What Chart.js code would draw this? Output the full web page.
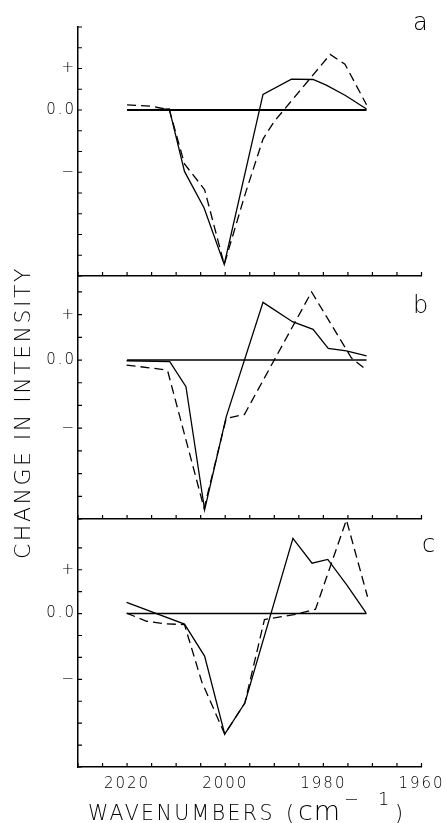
<!DOCTYPE html>
<html><head><meta charset="utf-8">
<script src="https://cdn.jsdelivr.net/npm/chart.js@4"></script>
<style>
html,body{margin:0;padding:0;background:#fff;overflow:hidden;width:445px;height:823px;position:relative;}
canvas{position:absolute;left:0;top:0;}
.t{position:absolute;font-family:'DejaVu Sans';font-weight:200;line-height:1;white-space:nowrap;color:#000;}
</style></head><body>
<canvas id="ca" width="480" height="823"></canvas>
<canvas id="cb" width="480" height="823"></canvas>
<canvas id="cc" width="480" height="823"></canvas>
<div class="t" style="font-size:24px;left:413px;top:9.7px;">a</div>
<div class="t" style="font-size:24px;left:413px;top:292.7px;">b</div>
<div class="t" style="font-size:24px;left:422px;top:531.7px;">c</div>
<div class="t" style="font-size:22px;letter-spacing:2.5px;left:12.4px;top:559px;transform-origin:0 0;transform:rotate(-90deg);">CHANGE IN INTENSITY</div>
<div class="t" style="font-size:20.5px;letter-spacing:2.4px;left:88px;top:802.7px;">WAVENUMBERS</div>
<div class="t" style="font-size:20.5px;left:286px;top:802.7px;">(</div>
<div class="t" style="font-size:27px;letter-spacing:1px;left:298px;top:797.2px;">cm</div>
<div class="t" style="font-size:17.8px;left:344px;top:789.9px;">−</div>
<div class="t" style="font-size:17.8px;left:378px;top:789.9px;">1</div>
<div class="t" style="font-size:20.5px;left:395px;top:802.7px;">)</div>
<script>
// ---- data (wavenumber, change in intensity in tick units) ----
const xTickValues = [1960,1965,1970,1975,1980,1985,1990,1995,2000,2005,2010,2015,2020,2025,2030];
const xTickLabels = {2020:'2020', 2000:'2000', 1980:'1980', 1960:'1960'};
const yTickLabels = {'2':'+', '0':'0.0', '-3':'−'};

const zeroW = [2020, 1971.2];
const zeroV = [0, 0];

// panel a
const aSolidW = [2020, 2016, 2011.4, 2008.3, 2004.3, 2000.2, 1992.3, 1986.5, 1982.1, 1979.4, 1975.5, 1971.2];
const aSolidV = [0, 0, 0.05, -2.96, -4.72, -7.44, 0.75, 1.49, 1.47, 1.2, 0.7, 0.05];
const aDashW  = [2020, 2015, 2011.4, 2008.3, 2004.2, 2000.2, 1996, 1992.3, 1990, 1978.6, 1975.6, 1971.2];
const aDashV  = [0.25, 0.18, 0.02, -2.6, -3.84, -7.44, -4.1, -1.4, -0.55, 2.68, 2.21, 0.25];
const aYTicks = [-8,-7,-6,-5,-4,-3,-2,-1,0,1,2,3,4];

// panel b
const bSolidW = [2020.1, 2011.3, 2008.0, 2004.2, 1999.8, 1992.3, 1986.3, 1982.1, 1979.0, 1975.3, 1971.2];
const bSolidV = [-0.03, -0.07, -1.17, -6.6, -2.5, 2.54, 1.69, 1.35, 0.51, 0.4, 0.18];
const bDashW  = [2020.1, 2012.5, 2011.7, 2004.3, 1999.8, 1996.1, 1982.4, 1974.3, 1971.2];
const bDashV  = [-0.22, -0.42, -0.5, -6.53, -2.57, -2.4, 3.0, 0.1, -0.44];
const bYTicks = [-7,-6,-5,-4,-3,-2,-1,0,1,2,3];

// panel c
const cSolidW = [2020.1, 2008.3, 2004.2, 2000.1, 1996.0, 1986.2, 1982.3, 1979.1, 1975.2, 1971.3];
const cSolidV = [0.51, -0.48, -1.94, -5.5, -4.08, 3.43, 2.3, 2.47, 1.3, 0.03];
const cDashW  = [2020.1, 2016, 2012, 2008.3, 2004.8, 2000.1, 1996.0, 1992.0, 1986, 1981.6, 1975.3, 1971.0];
const cDashV  = [0.02, -0.35, -0.47, -0.5, -3.1, -5.5, -4.08, -0.27, -0.05, 0.2, 4.27, 0.77];
const cYTicks = [-7,-6,-5,-4,-3,-2,-1,0,1,2,3];

const yMins = [-8, -7, -7];
const yMaxs = [4, 3.68, 4.27];

const pts = (w, v) => w.map((x, i) => ({x: x, y: v[i]}));

const innerTicks = {
  id: 'innerTicks',
  beforeDraw(chart) { chart.ctx.letterSpacing = '2px'; },
  afterDraw(chart) {
    const ctx = chart.ctx, xs = chart.scales.x, ys = chart.scales.y, a = chart.chartArea;
    ctx.save();
    ctx.strokeStyle = '#000';
    ctx.lineWidth = 1.2;
    ctx.beginPath();
    xs.ticks.forEach(t => { const px = xs.getPixelForValue(t.value); ctx.moveTo(px, a.bottom); ctx.lineTo(px, a.bottom - 4); });
    ys.ticks.forEach(t => { const py = ys.getPixelForValue(t.value); ctx.moveTo(a.left, py); ctx.lineTo(a.left + 4, py); });
    ctx.stroke();
    ctx.restore();
  }
};

const tickFont = { family: 'DejaVu Sans', size: 15, weight: '200' };

function makeChart(id, idx, sW, sV, dW, dV, yT, padTop, padBottom, showX, zeroWidth) {
  return new Chart(document.getElementById(id), {
    type: 'line',
    data: { datasets: [
      { data: pts(zeroW, zeroV), borderColor: '#000', borderWidth: zeroWidth, pointRadius: 0 },
      { data: pts(sW, sV), borderColor: '#000', borderWidth: 1.3, pointRadius: 0 },
      { data: pts(dW, dV), borderColor: '#000', borderWidth: 1.3, borderDash: [9, 5], pointRadius: 0 }
    ]},
    options: {
      responsive: false, animation: false, events: [],
      layout: { padding: { left: 0, right: 58.5, top: padTop, bottom: padBottom } },
      plugins: { legend: { display: false }, tooltip: { enabled: false } },
      scales: {
        x: {
          type: 'linear', min: 1960, max: 2030, reverse: true,
          afterBuildTicks: s => { s.ticks = xTickValues.map(v => ({value: v})); },
          afterFit: s => { s.height = showX ? 56 : 0; },
          ticks: { display: showX, autoSkip: false, maxRotation: 0, padding: 8, color: '#000',
                   font: tickFont, callback: v => xTickLabels[v] || '' },
          grid: { display: false, drawTicks: false },
          border: { display: true, color: '#000', width: 1.5 }
        },
        y: {
          min: yMins[idx], max: yMaxs[idx],
          afterBuildTicks: s => { s.ticks = yT.map(v => ({value: v})); },
          afterFit: s => { s.width = 78; },
          ticks: { autoSkip: false, padding: 2, color: '#000', font: tickFont,
                   callback: v => yTickLabels[String(v)] || '' },
          grid: { display: false, drawTicks: false },
          border: { display: true, color: '#000', width: 1.5 }
        }
      }
    },
    plugins: [innerTicks]
  });
}

makeChart('ca', 0, aSolidW, aSolidV, aDashW, aDashV, aYTicks, 27, 547, false, 2.2);
makeChart('cb', 1, bSolidW, bSolidV, bDashW, bDashV, bYTicks, 276.5, 304, false, 1.5);
makeChart('cc', 2, cSolidW, cSolidV, cDashW, cDashV, cYTicks, 520, 0, true, 1.5);
</script>
</body></html>
